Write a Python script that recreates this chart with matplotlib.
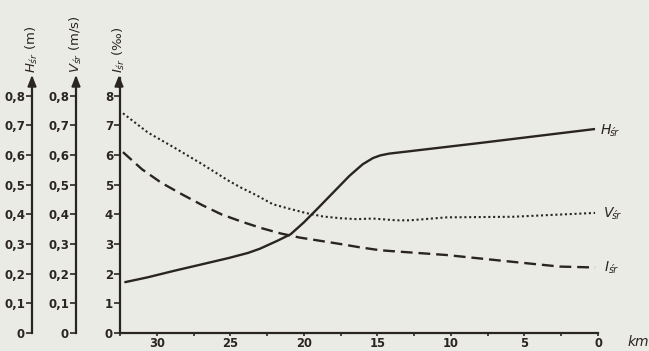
import matplotlib
matplotlib.use("Agg")
import matplotlib.pyplot as plt
import matplotlib.patches as mpatches
from matplotlib.ticker import FuncFormatter, MultipleLocator

# --- data ---
km_h = [32.2, 30.6, 28.8, 26.9, 25.1, 23.8, 23.0, 21.8, 20.9, 20.0, 19.1, 18.0, 16.9, 16.0,
        15.3, 14.8, 14.2, 13.5, 8.0, 0.2]
H = [0.171, 0.188, 0.210, 0.232, 0.253, 0.270, 0.284, 0.311, 0.333, 0.373, 0.418, 0.474,
     0.530, 0.569, 0.590, 0.599, 0.605, 0.609, 0.641, 0.688]

km_v = [32.3, 30.6, 28.8, 26.9, 25.1, 24.3, 23.2, 22.1, 20.9, 19.8, 18.7, 17.5, 16.4, 15.3,
        13.7, 12.8, 10.3, 5.8, 0.2]
V = [0.741, 0.676, 0.625, 0.569, 0.513, 0.491, 0.464, 0.434, 0.418, 0.404, 0.393, 0.387,
     0.384, 0.386, 0.380, 0.380, 0.390, 0.392, 0.405]

km_i = [32.3, 31.0, 29.7, 28.3, 26.9, 25.6, 24.2, 22.9, 21.6, 20.3, 18.9, 17.5, 16.2, 14.8,
        13.7, 10.3, 5.8, 2.6, 0.2]
I = [6.10, 5.52, 5.07, 4.68, 4.31, 4.00, 3.75, 3.54, 3.36, 3.22, 3.11, 3.00, 2.89, 2.79,
     2.75, 2.63, 2.40, 2.24, 2.21]

x_ticks = [30, 25, 20, 15, 10, 5, 0]
m_ticks = [0.0, 0.1, 0.2, 0.3, 0.4, 0.5, 0.6, 0.7, 0.8]
i_ticks = [0, 1, 2, 3, 4, 5, 6, 7, 8]

ink = "#2a2521"
bg = "#ebebe6"

W, Hpx = 649, 351
fig = plt.figure(figsize=(W / 100, Hpx / 100), dpi=100, facecolor=bg)
left, right, bottom, top = 120, 598, 333, 78
ax = fig.add_axes([left / W, (Hpx - bottom) / Hpx, (right - left) / W, (bottom - top) / Hpx])
ax.set_facecolor("none")
ax.set_xlim(32.5, 0)
ax.set_ylim(0, 8.6)

fmt = FuncFormatter(lambda v, p: "0" if abs(v) < 1e-9 else f"{v:.1f}".replace(".", ","))
axH = ax.twinx()
axV = ax.twinx()
for a, off in ((axH, (left - 32) * 0.72), (axV, (left - 76) * 0.72)):
    a.set_ylim(0, 0.86)
    a.set_facecolor("none")
    a.yaxis.set_ticks_position("left")
    a.yaxis.set_label_position("left")
    for s in ("right", "top", "bottom"):
        a.spines[s].set_visible(False)
    a.spines["left"].set_visible(True)
    a.spines["left"].set_position(("outward", off))
    a.set_yticks(m_ticks)
    a.yaxis.set_major_formatter(fmt)

for s in ("right", "top"):
    ax.spines[s].set_visible(False)
ax.set_yticks(i_ticks)
ax.set_xticks(x_ticks)
ax.xaxis.set_minor_locator(MultipleLocator(2.5))

for a in (ax, axH, axV):
    for s in a.spines.values():
        s.set_color(ink)
        s.set_linewidth(1.6)
    a.tick_params(axis="y", direction="out", length=4, width=1.2, colors=ink,
                  labelsize=8.5, pad=1)
    for t in a.get_yticklabels():
        t.set_fontweight("bold")
ax.tick_params(axis="x", which="major", direction="out", length=2.5, width=1.2,
               colors=ink, labelsize=8.3, pad=0.4)
ax.tick_params(axis="x", which="minor", direction="out", length=2.5, width=1.2, colors=ink)
for t in ax.get_xticklabels():
    t.set_fontweight("bold")

# lines
axH.plot(km_h, H, color=ink, lw=1.7, solid_capstyle="butt", solid_joinstyle="round")
axV.plot(km_v, V, color=ink, lw=1.5, linestyle=(0, (1, 1.3)))
ax.plot(km_i, I, color=ink, lw=1.7, linestyle=(0, (5, 2.5)))

# end labels
lab_kw = dict(fontsize=10, color=ink, style="italic", transform=fig.transFigure,
              va="center", ha="left")
sub_kw = dict(fontsize=7, color=ink, style="italic", transform=fig.transFigure,
              va="center", ha="left")
fig.text(601 / W, 1 - 130 / Hpx, "H", **lab_kw)
fig.text(610 / W, 1 - 133 / Hpx, "śr", **sub_kw)
fig.text(604 / W, 1 - 213 / Hpx, "V", **lab_kw)
fig.text(612 / W, 1 - 216 / Hpx, "śr", **sub_kw)
fig.text(605 / W, 1 - 267 / Hpx, "I", **lab_kw)
fig.text(609 / W, 1 - 270 / Hpx, "śr", **sub_kw)
fig.text(628 / W, 1 - 342 / Hpx, "km", fontsize=10, color=ink, style="italic",
         transform=fig.transFigure, va="center", ha="left")

# arrows and axis titles
titles = ((32, r"$\mathit{H}_{\mathit{śr}}$ (m)"),
          (76, r"$\mathit{V}_{\mathit{śr}}$ (m/s)"),
          (119, r"$\mathit{I}_{\mathit{śr}}$ (‰)"))
for xpx, title in titles:
    fig.patches.append(mpatches.FancyArrow(
        xpx / W, 1 - 86 / Hpx, 0, 9 / Hpx, width=0, head_width=8 / W, head_length=10 / Hpx,
        length_includes_head=True, color=ink, transform=fig.transFigure, figure=fig))
    fig.text(xpx / W, 1 - 73 / Hpx, title, rotation=90, fontsize=9.5, color=ink,
             ha="center", va="bottom", transform=fig.transFigure)

fig.savefig("out.png", dpi=100, facecolor=bg)
